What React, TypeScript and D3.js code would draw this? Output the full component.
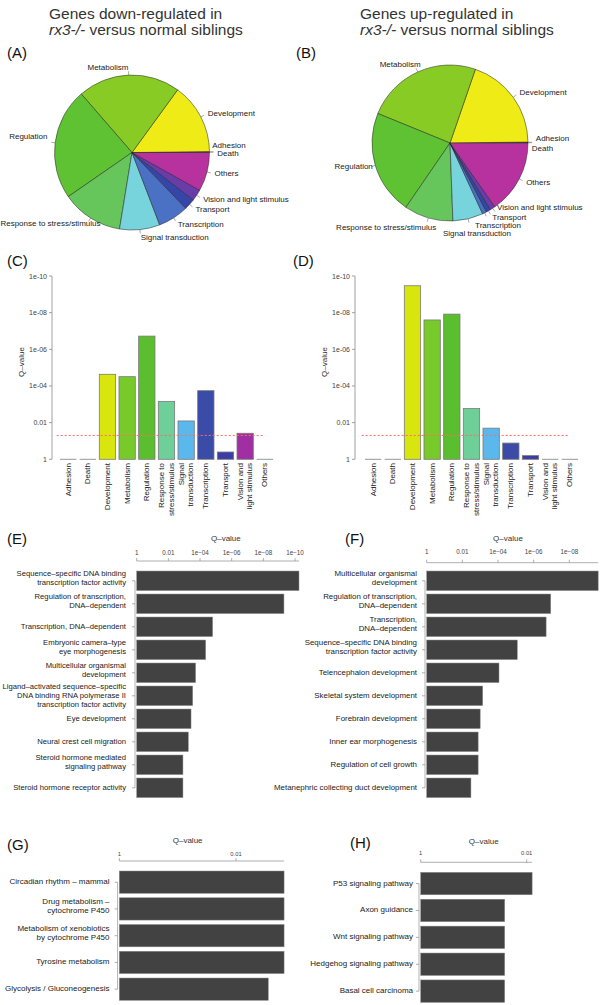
import React from "react";
import * as d3 from "d3";

// ---------- DATA ----------
const pieCategories = [
  "Adhesion", "Death", "Development", "Metabolism", "Regulation",
  "Response to stress/stimulus", "Signal transduction", "Transcription",
  "Transport", "Vision and light stimulus", "Others",
];
const pieColors = [
  "#aaaaaa", "#aaaaaa", "#EFEB16", "#88CB24", "#5EC232", "#67C65B",
  "#77D3DC", "#4A71C4", "#3645A8", "#693CA9", "#B8329F",
];
const pieDownShares = [0.1, 0.1, 14.8, 21.4, 23.3, 12.8, 8.4, 6.4, 2.3, 2.4, 8.1];
const pieUpShares = [0.1, 0.1, 19.6, 24.2, 21.7, 10.2, 6.3, 0.9, 0.9, 1.1, 15.3];

const barCategoryLines = [
  ["Adhesion"], ["Death"], ["Development"], ["Metabolism"], ["Regulation"],
  ["Response to", "stress/stimulus"], ["Signal", "transduction"], ["Transcription"],
  ["Transport"], ["Vision and", "light stimulus"], ["Others"],
];
const barColors = [
  "#cccccc", "#cccccc", "#D8E60E", "#78CA2A", "#5BBE2E", "#6ECF98",
  "#5AB8EC", "#3B4CA8", "#3B3DA5", "#A030A2", "#cccccc",
];
const qDown = [1, 1, 2.3e-5, 3.1e-5, 1.9e-7, 6.9e-4, 8.1e-3, 1.8e-4, 0.4, 0.038, 1];
const qUp = [1, 1, 3.4e-10, 2.5e-8, 1.2e-8, 1.7e-3, 0.02, 0.13, 0.63, 1, 1];
const qThreshold = 0.05;

const catTicks = [1, 0.01, 1e-4, 1e-6, 1e-8, 1e-10];
const catTickLabels = ["1", "0.01", "1e-04", "1e-06", "1e-08", "1e-10"];

const eLabels = [
  ["Sequence\u2013specific DNA binding", "transcription factor activity"],
  ["Regulation of transcription,", "DNA\u2013dependent"],
  ["Transcription, DNA\u2013dependent"],
  ["Embryonic camera\u2013type", "eye morphogenesis"],
  ["Multicellular organismal", "development"],
  ["Ligand\u2013activated sequence\u2013specific", "DNA binding RNA polymerase II", "transcription factor activity"],
  ["Eye development"],
  ["Neural crest cell migration"],
  ["Steroid hormone mediated", "signaling pathway"],
  ["Steroid hormone receptor activity"],
];
const eQ = [5.6e-11, 5e-10, 1.6e-5, 4.4e-5, 1.9e-4, 2.9e-4, 3.7e-4, 5.5e-4, 1.2e-3, 1.2e-3];
const eTicks = [1, 0.01, 1e-4, 1e-6, 1e-8, 1e-10];
const eTickLabels = ["1", "0.01", "1e\u221204", "1e\u221206", "1e\u221208", "1e\u221210"];

const fLabels = [
  ["Multicellular organismal", "development"],
  ["Regulation of transcription,", "DNA\u2013dependent"],
  ["Transcription,", "DNA\u2013dependent"],
  ["Sequence\u2013specific DNA binding", "transcription factor activity"],
  ["Telencephalon development"],
  ["Skeletal system development"],
  ["Forebrain development"],
  ["Inner ear morphogenesis"],
  ["Regulation of cell growth"],
  ["Metanephric collecting duct development"],
];
const fQ = [2.4e-10, 1.1e-7, 2.0e-7, 8.3e-6, 8.8e-5, 7.2e-4, 1.0e-3, 1.3e-3, 1.3e-3, 3.3e-3];
const fTicks = [1, 0.01, 1e-4, 1e-6, 1e-8];
const fTickLabels = ["1", "0.01", "1e\u221204", "1e\u221206", "1e\u221208"];

const gLabels = [
  ["Circadian rhythm \u2013 mammal"],
  ["Drug metabolism \u2013", "cytochrome P450"],
  ["Metabolism of xenobiotics", "by cytochrome P450"],
  ["Tyrosine metabolism"],
  ["Glycolysis / Gluconeogenesis"],
];
const gQ = [1.5e-3, 1.5e-3, 1.5e-3, 1.5e-3, 2.8e-3];
const hLabels = [
  ["P53 signaling pathway"],
  ["Axon guidance"],
  ["Wnt signaling pathway"],
  ["Hedgehog signaling pathway"],
  ["Basal cell carcinoma"],
];
const hQ = [7.9e-3, 0.026, 0.026, 0.026, 0.026];
const ghTicks = [1, 0.01];
const ghTickLabels = ["1", "0.01"];

const FONT = "Liberation Sans, Arial, Helvetica, sans-serif";

// ---------- COMPONENTS ----------
type Nudge = Record<string, [number, number]>;

function Pie({ cx, cy, r, shares, nudges }: { cx: number; cy: number; r: number; shares: number[]; nudges: Nudge }) {
  const pie = d3.pie<number>().sort(null).value((d) => d)
    .startAngle(Math.PI / 2).endAngle(Math.PI / 2 - 2 * Math.PI);
  const arcs = pie(shares);
  const arc = d3.arc<any>().innerRadius(0).outerRadius(r);
  return (
    <g transform={`translate(${cx},${cy})`}>
      {arcs.map((a, i) => (
        <path key={i} d={arc(a) || ""} fill={pieColors[i]} stroke="#222" strokeWidth={0.5} />
      ))}
      {arcs.map((a, i) => {
        const m = (a.startAngle + a.endAngle) / 2;
        const ux = Math.sin(m), uy = -Math.cos(m);
        const [dx, dy] = nudges[pieCategories[i]] || [0, 0];
        return (
          <g key={"l" + i}>
            <line x1={ux * r} y1={uy * r} x2={ux * r * 1.05} y2={uy * r * 1.05} stroke="#555" strokeWidth={0.5} />
            <text x={ux * r * 1.1 + dx} y={uy * r * 1.1 + dy} textAnchor={ux < -1e-6 ? "end" : "start"}
              dominantBaseline="central" fontSize={8} fill="#222">{pieCategories[i]}</text>
          </g>
        );
      })}
    </g>
  );
}

function CatBars({ axisX, bandStart, qs }: { axisX: number; bandStart: number; qs: number[] }) {
  const step = 19.67;
  const x = d3.scaleBand<number>().domain(d3.range(qs.length))
    .range([bandStart, bandStart + step * qs.length]).paddingInner(0.17).paddingOuter(0.085);
  const y = d3.scaleLog().domain([1, 1e-10]).range([459.3, 276]);
  const y0 = y(1);
  return (
    <g>
      <line x1={axisX} x2={axisX} y1={y(1e-10)} y2={y(1)} stroke="#888" strokeWidth={0.8} />
      {catTicks.map((t, i) => (
        <g key={i}>
          <line x1={axisX - 3} x2={axisX} y1={y(t)} y2={y(t)} stroke="#888" strokeWidth={0.8} />
          <text x={axisX - 5} y={y(t)} textAnchor="end" dominantBaseline="central" fontSize={7} fill="#444">{catTickLabels[i]}</text>
        </g>
      ))}
      <text transform={`translate(${axisX - 31},362) rotate(-90)`} textAnchor="middle" dominantBaseline="central" fontSize={8} fill="#333">Q{"\u2013"}value</text>
      {qs.map((q, i) => {
        const top = y(q);
        const bx = x(i)!;
        return top < y0 - 0.8 ? (
          <rect key={i} x={bx} y={top} width={x.bandwidth()} height={y0 - top} fill={barColors[i]} stroke="#7a7a7a" strokeWidth={0.8} />
        ) : (
          <line key={i} x1={bx} x2={bx + x.bandwidth()} y1={y0} y2={y0} stroke="#8a8a8a" strokeWidth={0.9} />
        );
      })}
      <line x1={bandStart - 1.6} x2={bandStart + step * qs.length - 10} y1={y(qThreshold)} y2={y(qThreshold)}
        stroke="#ff6a6a" strokeWidth={1} strokeDasharray="2,2" />
      {barCategoryLines.map((lines, i) => {
        const cx = x(i)! + x.bandwidth() / 2;
        const lh = 9.3;
        return (
          <text key={"c" + i} transform={`translate(${cx},463) rotate(-90)`} textAnchor="end" fontSize={8} fill="#222">
            {lines.map((l, j) => (
              <tspan key={j} x={0} y={(j - (lines.length - 1) / 2) * lh} dominantBaseline="central">{l}</tspan>
            ))}
          </text>
        );
      })}
    </g>
  );
}

function HBars({ labels, qs, x0, x1, domMax, ticks, tickLabels, bandTop, step, inner, qTitleY, tickLabelY, axisY, labelRight, tickFont, labelFont }:
  { labels: string[][]; qs: number[]; x0: number; x1: number; domMax: number; ticks: number[]; tickLabels: string[];
    bandTop: number; step: number; inner: number; qTitleY: number; tickLabelY: number; axisY: number; labelRight: number; tickFont: number; labelFont: number }) {
  const x = d3.scaleLog().domain([1, domMax]).range([x0, x1]);
  const y = d3.scaleBand<number>().domain(d3.range(qs.length))
    .range([bandTop, bandTop + step * qs.length]).paddingInner(inner).paddingOuter(inner / 2);
  const minQ = d3.min(qs)!;
  const axisEnd = x(minQ);
  const vx = x0 - 1.7;
  const centers = qs.map((_, i) => y(i)! + y.bandwidth() / 2);
  return (
    <g>
      <text x={(x0 + x(ticks[ticks.length - 1])) / 2 + 10} y={qTitleY} textAnchor="middle" dominantBaseline="central" fontSize={8} fill="#333">Q{"\u2013"}value</text>
      <line x1={x0} x2={axisEnd} y1={axisY} y2={axisY} stroke="#999" strokeWidth={0.8} />
      {ticks.map((t, i) => (
        <g key={i}>
          <line x1={x(t)} x2={x(t)} y1={axisY} y2={axisY - 3} stroke="#999" strokeWidth={0.8} />
          <text x={x(t)} y={tickLabelY} textAnchor="middle" dominantBaseline="central" fontSize={tickFont} fill="#444">{tickLabels[i]}</text>
        </g>
      ))}
      <line x1={vx} x2={vx} y1={centers[0]} y2={centers[centers.length - 1]} stroke="#aaa" strokeWidth={0.9} />
      {qs.map((q, i) => (
        <rect key={"b" + i} x={x0} y={y(i)!} width={x(q) - x0} height={y.bandwidth()} fill="#424242" stroke="#8a8a8a" strokeWidth={0.5} />
      ))}
      {labels.map((lines, i) => {
        const c = centers[i];
        const lh = 9;
        const off = lines.length === 2 ? -2.5 : lines.length === 1 ? -0.5 : 0;
        return (
          <g key={"l" + i}>
            <line x1={vx - 3} x2={vx} y1={c} y2={c} stroke="#999" strokeWidth={0.8} />
            <text fontSize={labelFont} fill="#222" textAnchor="end">
              {lines.map((l, j) => (
                <tspan key={j} x={labelRight} y={c + off + (j - (lines.length - 1) / 2) * lh} dominantBaseline="central">{l}</tspan>
              ))}
            </text>
          </g>
        );
      })}
    </g>
  );
}

export default function App() {
  const nudgeA: Nudge = {
    Adhesion: [-5, -7], Death: [0, 2], Regulation: [0, -5], "Response to stress/stimulus": [14, -1.5],
  };
  const nudgeB: Nudge = {
    Adhesion: [0, -4], Death: [-4, 6], Metabolism: [6, 0], Regulation: [5, -1.5],
    "Response to stress/stimulus": [10, 2.4], "Signal transduction": [-27, 7.5],
    Transcription: [-13, 6], Transport: [0, -0.5], "Vision and light stimulus": [0, -7],
  };
  return (
    <svg width={600} height={1005} style={{ position: "absolute", left: 0, top: 0, background: "#fff" }} fontFamily={FONT}>
      <rect x={0} y={0} width={600} height={1005} fill="#fff" />
      {/* Titles */}
      <text x={49} y={18.5} fontSize={15.5} fill="#333">Genes down-regulated in</text>
      <text x={49} y={34.5} fontSize={15.5} fill="#333"><tspan fontStyle="italic">rx3-/-</tspan> versus normal siblings</text>
      <text x={360} y={18.5} fontSize={15.5} fill="#333">Genes up-regulated in</text>
      <text x={360} y={34.5} fontSize={15.5} fill="#333"><tspan fontStyle="italic">rx3-/-</tspan> versus normal siblings</text>

      {/* Panel letters */}
      <text x={7} y={58} fontSize={15} fill="#111">(A)</text>
      <text x={296} y={58} fontSize={15} fill="#111">(B)</text>
      <text x={7} y={266} fontSize={15} fill="#111">(C)</text>
      <text x={293} y={266} fontSize={15} fill="#111">(D)</text>
      <text x={7} y={544} fontSize={15} fill="#111">(E)</text>
      <text x={345} y={544} fontSize={15} fill="#111">(F)</text>
      <text x={7} y={850} fontSize={15} fill="#111">(G)</text>
      <text x={350} y={848} fontSize={15} fill="#111">(H)</text>

      <Pie cx={132} cy={152.5} r={77.5} shares={pieDownShares} nudges={nudgeA} />
      <Pie cx={450} cy={143} r={78} shares={pieUpShares} nudges={nudgeB} />

      <CatBars axisX={52} bandStart={58.3} qs={qDown} />
      <CatBars axisX={355} bandStart={363.3} qs={qUp} />

      <HBars labels={eLabels} qs={eQ} x0={136.7} x1={295} domMax={1e-10} ticks={eTicks} tickLabels={eTickLabels}
        bandTop={569.3} step={23} inner={0.15} qTitleY={538.3} tickLabelY={552.3} axisY={561} labelRight={126} tickFont={6.3} labelFont={7.7} />
      <HBars labels={fLabels} qs={fQ} x0={426.7} x1={569.3} domMax={1e-8} ticks={fTicks} tickLabels={fTickLabels}
        bandTop={569.3} step={23} inner={0.15} qTitleY={538.3} tickLabelY={551.7} axisY={562.7} labelRight={417} tickFont={6.3} labelFont={7.9} />
      <HBars labels={gLabels} qs={gQ} x0={119.3} x1={236} domMax={0.01} ticks={ghTicks} tickLabels={ghTickLabels}
        bandTop={868.8} step={26.75} inner={0.166} qTitleY={840.7} tickLabelY={854.3} axisY={861} labelRight={109.5} tickFont={5.8} labelFont={8} />
      <HBars labels={hLabels} qs={hQ} x0={420.7} x1={526.7} domMax={0.01} ticks={ghTicks} tickLabels={ghTickLabels}
        bandTop={870.1} step={26.9} inner={0.166} qTitleY={841.7} tickLabelY={852.7} axisY={862.3} labelRight={413} tickFont={5.8} labelFont={8} />
    </svg>
  );
}
